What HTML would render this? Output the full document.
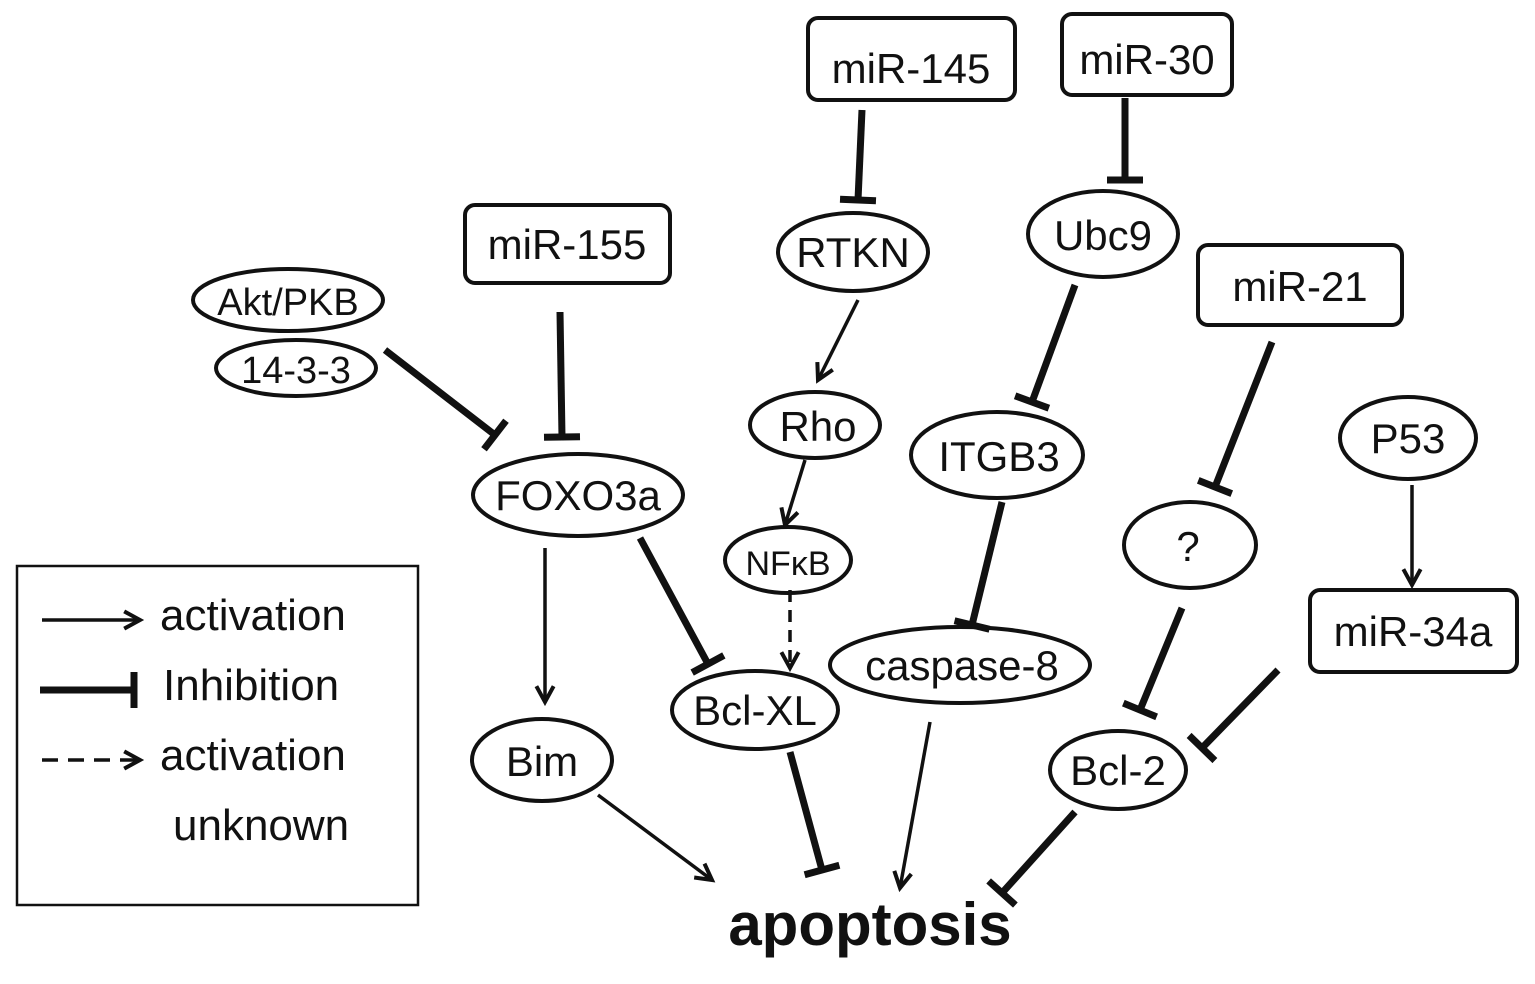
<!DOCTYPE html>
<html><head><meta charset="utf-8"><style>
html,body{margin:0;padding:0;background:#fff;}
svg text{font-family:"Liberation Sans",sans-serif;fill:#111;}
</style></head><body>
<svg id="s" width="1535" height="979" viewBox="0 0 1535 979" xmlns="http://www.w3.org/2000/svg">
<g fill="#fff" stroke="#111" stroke-width="4">
<rect x="808" y="18" width="207" height="82" rx="10"/>
<rect x="1062" y="14" width="170" height="81" rx="10"/>
<rect x="465" y="205" width="205" height="78" rx="10"/>
<rect x="1198" y="245" width="204" height="80" rx="10"/>
<rect x="1310" y="590" width="207" height="82" rx="10"/>
<ellipse cx="288" cy="300" rx="95" ry="31"/>
<ellipse cx="296" cy="368" rx="80" ry="28"/>
<ellipse cx="853" cy="252" rx="75" ry="39"/>
<ellipse cx="1103" cy="234" rx="75" ry="43"/>
<ellipse cx="815" cy="425" rx="65" ry="33"/>
<ellipse cx="997" cy="455" rx="86" ry="43"/>
<ellipse cx="578" cy="495" rx="105" ry="41"/>
<ellipse cx="788" cy="560" rx="63" ry="33"/>
<ellipse cx="1190" cy="545" rx="66" ry="43"/>
<ellipse cx="1408" cy="438" rx="68" ry="41"/>
<ellipse cx="960" cy="665" rx="130" ry="38"/>
<ellipse cx="755" cy="710" rx="83" ry="39"/>
<ellipse cx="542" cy="760" rx="70" ry="41"/>
<ellipse cx="1118" cy="770" rx="68" ry="39"/>
<rect x="17" y="566" width="401" height="339" fill="none" stroke-width="2.5"/>
</g>
<g font-size="42" text-anchor="middle">
<text x="911" y="83">miR-145</text>
<text x="1147" y="74">miR-30</text>
<text x="567" y="259">miR-155</text>
<text x="1300" y="301">miR-21</text>
<text x="1413" y="646">miR-34a</text>
<text x="288" y="315" font-size="38">Akt/PKB</text>
<text x="296" y="383" font-size="38" font-family="Liberation Serif">14-3-3</text>
<text x="853" y="267">RTKN</text>
<text x="1103" y="250">Ubc9</text>
<text x="818" y="441">Rho</text>
<text x="999" y="471">ITGB3</text>
<text x="578" y="510">FOXO3a</text>
<text x="788" y="575" font-size="34">NFκB</text>
<text x="1188" y="561">?</text>
<text x="1408" y="453">P53</text>
<text x="962" y="680">caspase-8</text>
<text x="755" y="725">Bcl-XL</text>
<text x="542" y="776">Bim</text>
<text x="1118" y="785">Bcl-2</text>
<text x="870" y="945" font-size="60" font-weight="bold">apoptosis</text>
</g>
<g font-size="44">
<text x="160" y="630">activation</text>
<text x="163" y="700">Inhibition</text>
<text x="160" y="770">activation</text>
<text x="173" y="840">unknown</text>
</g>
<g id="c" stroke="#111" fill="none" stroke-linecap="butt"></g>
</svg>
<script>
var g=document.getElementById('c'),NS='http://www.w3.org/2000/svg';
function L(x1,y1,x2,y2,w,d){var l=document.createElementNS(NS,'line');l.setAttribute('x1',x1);l.setAttribute('y1',y1);l.setAttribute('x2',x2);l.setAttribute('y2',y2);l.setAttribute('stroke-width',w);if(d)l.setAttribute('stroke-dasharray',d);g.appendChild(l);}
function A(x1,y1,x2,y2,d){L(x1,y1,x2,y2,3.5,d);var a=Math.atan2(y2-y1,x2-x1),s=18,p=0.5;
var pl=document.createElementNS(NS,'polyline');pl.setAttribute('points',(x2-s*Math.cos(a-p))+','+(y2-s*Math.sin(a-p))+' '+x2+','+y2+' '+(x2-s*Math.cos(a+p))+','+(y2-s*Math.sin(a+p)));pl.setAttribute('stroke-width',4);g.appendChild(pl);}
function I(x1,y1,x2,y2){L(x1,y1,x2,y2,7);var a=Math.atan2(y2-y1,x2-x1),h=18,nx=-Math.sin(a),ny=Math.cos(a);L(x2-nx*h,y2-ny*h,x2+nx*h,y2+ny*h,7);}
I(862,110,858,200);I(1125,98,1125,180);I(560,312,562,437);I(385,350,495,435);
A(858,300,818,380);A(805,460,785,525);A(790,590,790,668,'12,8');
I(1075,285,1032,402);I(1002,502,972,625);I(1272,342,1215,487);A(1412,485,1412,585);
A(545,548,545,702);I(640,538,708,664);I(1182,608,1140,710);I(1278,670,1202,748);
A(598,795,712,880);I(790,752,822,870);A(930,722,900,888);I(1075,812,1002,893);
A(42,620,140,620);I(40,690,134,690);A(42,760,140,760,'16,10');
</script>
</body></html>
